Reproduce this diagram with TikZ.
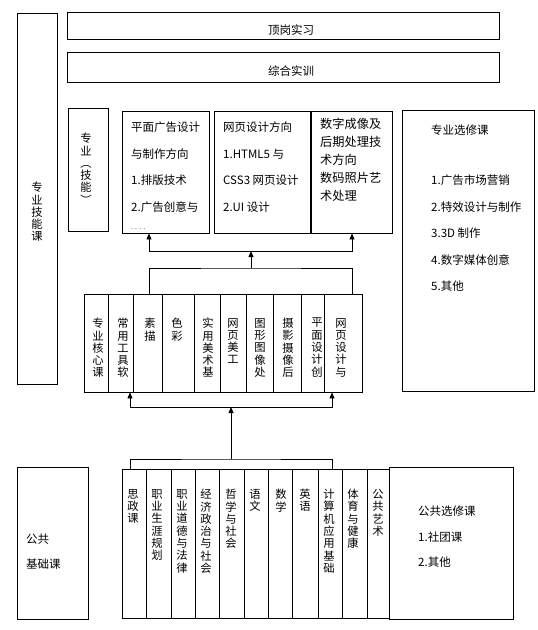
\documentclass[tikz,border=0pt]{standalone}
\usepackage{fontspec}
\setmainfont{Noto Sans CJK SC}
\usepackage{tikz}
\usetikzlibrary{arrows.meta,positioning,calc,fit}
\tikzset{
  box/.style={draw=black, line width=0.9pt, inner sep=0pt},
  hlabel/.style={anchor=north west, inner sep=0pt, align=left, font=\fontsize{11.5}{26.5}\selectfont},
  vlabel/.style={anchor=north, inner sep=0pt, align=center, font=\fontsize{11.3}{12.3}\selectfont},
  arrow/.style={-{Triangle[length=6pt, width=5pt]}, line width=0.8pt},
  link/.style={line width=0.8pt}
}

\begin{document}
\begin{tikzpicture}[x=1pt, y=-1pt]
\useasboundingbox (0,0) rectangle (538,630);
% frame boxes
\node[box, fit={(17,13)(57,384)}] (skills) {};
\node[box, fit={(67,12)(499,39)}] (intern) {};
\node[box, fit={(67,52)(499,82)}] (train) {};
\node[box, fit={(68,108)(108,231)}] (major) {};
\node[box, fit={(122,111)(209,233)}] (dirA) {};
\node[box, fit={(214,111)(310.4,233)}] (dirB) {};
\node[box, fit={(311.4,111)(392,233)}] (dirC) {};
\node[box, fit={(402,110)(534,391)}] (elect) {};
\node[box, fit={(17,467)(88,619)}] (pubbase) {};
\node[box, fit={(389,467)(513,619)}] (pubelect) {};

% texts
\node (interntxt) at (291,30) {\fontsize{11.5}{12}\selectfont 顶岗实习};
\node (traintxt) at (291,71) {\fontsize{11.5}{12}\selectfont 综合实训};
\node[vlabel] (skillstxt) at (37,182) {专\\业\\技\\能\\课};
\node[vlabel] (majortxt) at (86,133) {专\\业\\︵\\技\\能\\︶};
\node[hlabel] (dirAtxt) at (131,122) {平面广告设计\\与制作方向\\1.排版技术\\2.广告创意与\\[-8pt]{\fontsize{7}{8}\selectfont . . . .}};
\node[hlabel] (dirBtxt) at (223,122) {网页设计方向\\1.HTML5 与\\CSS3 网页设计\\2.UI 设计};
\node[hlabel, font=\fontsize{12.2}{18}\selectfont] (dirCtxt) at (320,118) {数字成像及\\后期处理技\\术方向\\数码照片艺\\术处理};
\node[hlabel] (electhead) at (431,125) {专业选修课};
\node[hlabel, font=\fontsize{11.5}{26.4}\selectfont] (electtxt) at (431,175) {1.广告市场营销\\2.特效设计与制作\\3.3D 制作\\4.数字媒体创意\\5.其他};
\node[hlabel, font=\fontsize{11.5}{25}\selectfont] (pubbasetxt) at (26,534) {公共\\基础课};
\node[hlabel, font=\fontsize{11.5}{25.5}\selectfont] (pubelecttxt) at (418,506) {公共选修课\\1.社团课\\2.其他};

% core courses
\node[box, fit={(84,294)(108,392)}] (c1) {};
\node[box, fit={(108,294)(133,392)}] (c2) {};
\node[box, fit={(133,294)(162,392)}] (c3) {};
\node[box, fit={(162,294)(194,392)}] (c4) {};
\node[box, fit={(194,294)(220,392)}] (c5) {};
\node[box, fit={(220,294)(246,392)}] (c6) {};
\node[box, fit={(246,294)(273,392)}] (c7) {};
\node[box, fit={(273,294)(301,392)}] (c8) {};
\node[box, fit={(301,294)(324,392)}] (c9) {};
\node[box, fit={(324,294)(362,392)}] (c10) {};
\node[vlabel] at (98,318) {专\\业\\核\\心\\课};
\node[vlabel] at (123,318) {常\\用\\工\\具\\软};
\node[vlabel] at (150,318) {素\\描};
\node[vlabel] at (177,318) {色\\彩};
\node[vlabel] at (208,318) {实\\用\\美\\术\\基};
\node[vlabel] at (233,318) {网\\页\\美\\工};
\node[vlabel] at (260,318) {图\\形\\图\\像\\处};
\node[vlabel] at (288,318) {摄\\影\\摄\\像\\后};
\node[vlabel] at (317,318) {平\\面\\设\\计\\创};
\node[vlabel] at (341,318) {网\\页\\设\\计\\与};

% public courses
\node[box, fit={(122,469)(146,618)}] (p1) {};
\node[box, fit={(146,469)(171,618)}] (p2) {};
\node[box, fit={(171,469)(195,618)}] (p3) {};
\node[box, fit={(195,469)(219,618)}] (p4) {};
\node[box, fit={(219,469)(244,618)}] (p5) {};
\node[box, fit={(244,469)(268,618)}] (p6) {};
\node[box, fit={(268,469)(292,618)}] (p7) {};
\node[box, fit={(292,469)(318,618)}] (p8) {};
\node[box, fit={(318,469)(342,618)}] (p9) {};
\node[box, fit={(342,469)(367,618)}] (p10) {};
\node[box, fit={(367,469)(389,618)}] (p11) {};
\node[vlabel] at (133,489) {思\\政\\课};
\node[vlabel] at (157,489) {职\\业\\生\\涯\\规\\划};
\node[vlabel] at (182,489) {职\\业\\道\\德\\与\\法\\律};
\node[vlabel] at (206,489) {经\\济\\政\\治\\与\\社\\会};
\node[vlabel] at (231,489) {哲\\学\\与\\社\\会};
\node[vlabel] at (255,489) {语\\文};
\node[vlabel] at (281,489) {数\\学};
\node[vlabel] at (305,489) {英\\语};
\node[vlabel] at (329,489) {计\\算\\机\\应\\用\\基\\础};
\node[vlabel] at (353,489) {体\\育\\与\\健\\康};
\node[vlabel] at (378,489) {公\\共\\艺\\术};

% connectors, core -> directions
\coordinate (upM) at (251,268);
\coordinate (upJ) at (251,251);
\coordinate (upL) at (149,251);
\coordinate (upR) at (352,251);
\draw[link] (c3.north -| upL) |- (upM) -| (c10.north -| upR);
\draw[arrow] (upM) -- (upJ);
\draw[arrow] (upJ) -| (dirA.south -| upL);
\draw[arrow] (upJ) -| (dirC.south -| upR);

% connectors, public -> core
\coordinate (loM) at (231,459);
\coordinate (loJ) at (231,407);
\coordinate (loL) at (130,407);
\coordinate (loR) at (332,407);
\draw[link] (p1.north -| loL) |- (loM) -| (p9.north -| loR);
\draw[arrow] (loM) -- (loJ);
\draw[arrow] (loJ) -| (c2.south -| loL);
\draw[arrow] (loJ) -| (c10.south -| loR);
\end{tikzpicture}
\end{document}
